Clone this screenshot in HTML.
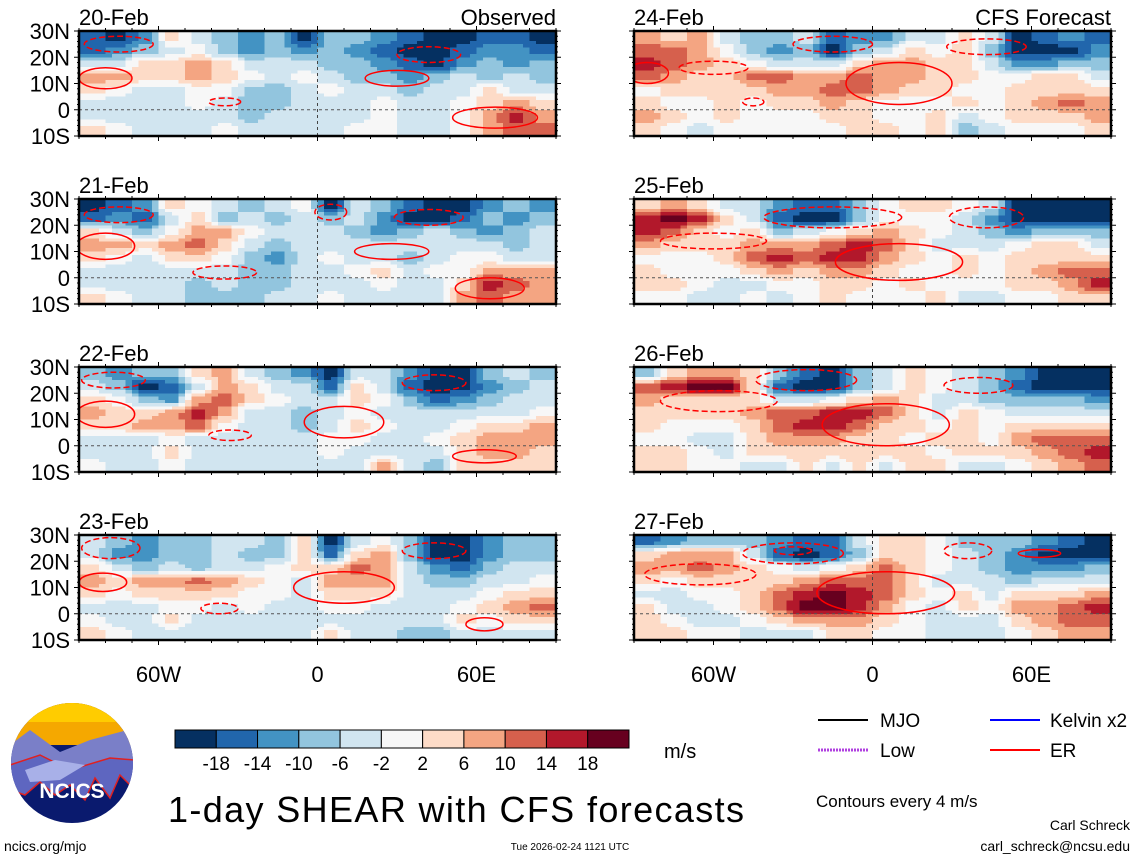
<!DOCTYPE html>
<html><head><meta charset="utf-8"><style>
body{margin:0;background:#fff;width:1135px;height:860px;overflow:hidden;font-family:"Liberation Sans",sans-serif}
svg{position:absolute;left:0;top:0}
</style></head><body>
<svg id="chart" width="1135" height="860" viewBox="0 0 1135 860" xmlns="http://www.w3.org/2000/svg">
<g id="panels"></g>
<g id="legend"></g>
</svg>
<script>
const dates=["20-Feb","21-Feb","22-Feb","23-Feb","24-Feb","25-Feb","26-Feb","27-Feb"];
const lonTickLabels=["60W","0","60E"];
const lonTicks=[-60,0,60];
const latTickLabels=["30N","20N","10N","0","10S"];
const latTicks=[30,20,10,0,-10];
const levels=[-18,-14,-10,-6,-2,2,6,10,14,18];
const levelLabels=["-18","-14","-10","-6","-2","2","6","10","14","18"];
const colors=["#053061","#2166ac","#4393c3","#92c5de","#d1e5f0","#f7f7f7","#fddbc7","#f4a582","#d6604d","#b2182b","#67001f"];
// 18 lon columns (-90..90 step 10) x 8 lat rows (30N..10S step 5)
const field20=[[-16,-20,-12,4,-4,-8,-12,-8,-20,-8,-8,-12,-16,-20,-20,-16,-16,-20],[-16,-12,-8,-4,0,-8,-12,-8,-12,-8,-12,-16,-20,-20,-16,-12,-12,-16],[-4,-4,4,4,8,4,-4,-4,-4,-8,-8,-12,-16,-20,-12,-8,-12,-8],[8,8,4,4,8,4,0,-4,0,-4,-8,-8,-12,-8,-4,-8,-4,-8],[4,0,-4,-4,0,0,-8,-8,-4,0,-4,-4,-8,-4,-4,4,-4,-4],[-4,-4,-4,-4,0,-4,-8,-8,-4,-4,-4,0,-4,-4,0,4,8,4],[-4,-4,-4,-4,-4,-4,-8,-4,-4,-4,-4,0,-4,-4,0,8,16,8],[4,0,-4,-4,-4,0,-4,-4,-4,-4,0,0,-4,-4,0,8,12,12]];
const field21=[[-20,-16,-12,4,0,-4,-8,-4,0,-20,-4,-8,-16,-20,-20,-12,-8,-12],[-16,-12,-16,-4,4,-8,-4,-8,-4,-8,-4,-12,-20,-20,-16,-8,-12,-8],[4,-4,-8,0,8,8,0,-4,-4,-4,-8,-12,-8,-4,-8,-12,-8,-4],[8,8,4,8,12,4,-4,-8,-4,-4,-4,-4,-4,-4,-4,-4,-8,-4],[4,0,-4,4,4,0,-8,-12,-4,0,-4,-4,-8,-4,0,0,-4,-4],[-4,-4,-4,-4,-4,-4,-8,-8,-4,-4,0,4,-4,0,0,8,8,8],[-4,-4,-4,-4,-8,-4,-8,-8,-4,-4,-4,0,-4,-4,4,16,12,8],[4,0,-4,-4,-8,-8,-8,-4,-4,0,-4,-4,-4,-4,8,12,8,8]];
const field22=[[-8,-12,-8,-8,4,8,-4,-8,-12,-20,-4,-4,-12,-20,-20,-8,-4,-8],[-4,-8,-20,-16,-4,8,4,-4,-4,-16,4,-4,-16,-20,-20,-12,-8,-4],[4,0,-8,-12,8,12,4,0,-4,-4,4,0,-8,-16,-12,-8,-4,-4],[8,4,4,8,16,8,-4,-4,-8,-4,0,-4,-4,-4,-4,-4,-4,0],[4,4,8,8,12,0,-4,-4,-8,-4,4,0,-4,-4,0,4,4,8],[-4,-4,-4,0,-4,-4,-4,-4,-4,0,0,-4,-4,0,4,8,8,8],[-4,-4,-4,4,-4,-4,-4,-4,-4,0,-4,-4,-4,-4,4,8,8,4],[0,-4,-4,0,-4,-4,-4,-4,-4,-4,-4,8,-4,-8,4,4,4,4]];
const field23=[[-4,-8,-12,-8,-8,-4,-4,-8,4,-20,-4,0,-8,-20,-20,-12,-8,-8],[-4,-12,-12,-8,-8,-4,-8,-8,4,-16,4,8,-8,-20,-20,-12,-8,-8],[4,-4,-8,-4,-8,-4,-4,0,4,4,12,8,-4,-12,-16,-8,-4,-4],[8,4,8,8,12,8,4,0,-4,8,8,8,-4,-8,-8,-4,-4,0],[4,0,4,4,4,4,0,0,-4,4,4,4,-4,-4,-4,0,4,4],[-4,-4,-4,0,0,-4,0,-4,-4,0,0,-4,-4,-4,0,4,8,12],[0,-4,-4,4,-4,-4,-4,-4,-4,-4,-4,-4,-4,-4,4,0,4,4],[4,0,-4,-4,-4,-4,-4,-4,-4,4,-4,-4,-8,-8,-4,-4,-4,-4]];
const field24=[[8,4,8,-4,-8,-8,-4,-16,-12,-12,-4,-4,4,-4,-20,-16,-12,-16],[12,12,8,0,-8,-12,-8,-20,-8,-4,4,0,4,-8,-20,-20,-20,-12],[16,12,8,4,0,-4,-4,-4,4,8,8,4,4,-4,-12,-12,-8,-8],[12,8,4,4,12,12,8,8,12,8,8,4,4,0,0,4,4,-4],[0,4,4,4,4,8,8,12,12,8,4,4,0,0,4,4,4,4],[4,0,0,4,0,4,4,8,4,0,0,0,4,0,4,8,12,8],[8,4,0,4,0,0,0,4,4,0,0,4,-4,0,4,4,4,8],[4,0,-4,0,0,0,0,0,4,4,0,4,-8,-4,0,0,0,4]];
const field25=[[4,8,4,-4,-4,-12,-16,-16,-8,0,4,4,0,-4,-20,-20,-20,-20],[16,20,16,4,-4,-16,-20,-20,-8,0,0,0,-4,-12,-20,-20,-20,-20],[16,12,4,0,4,-8,-4,0,4,8,4,0,-4,-8,-12,-8,-8,-8],[8,4,4,4,8,8,8,12,16,12,4,-4,-4,-4,0,4,4,-4],[0,0,0,4,12,16,12,16,16,8,4,0,4,0,4,4,4,4],[4,0,0,0,4,8,4,8,8,4,0,0,4,0,4,8,12,12],[4,4,0,-4,-4,0,0,4,4,0,4,0,0,0,4,4,8,16],[0,0,-4,-4,0,-4,0,4,0,0,0,4,-4,-4,0,0,4,4]];
const field26=[[-8,4,8,8,4,-8,-16,-20,-8,-4,4,0,-4,-8,-12,-20,-20,-20],[12,16,20,20,4,-16,-20,-20,-8,-4,4,0,-4,-8,-16,-20,-20,-20],[8,4,4,4,4,-4,-4,0,4,8,4,-4,-4,-8,-8,-8,-8,-12],[4,4,4,4,8,12,12,16,16,12,4,-4,4,0,-4,-4,-4,-4],[4,0,0,0,4,12,16,16,12,4,4,0,4,0,4,4,4,4],[0,0,-4,-4,4,8,8,8,4,4,0,4,4,0,8,12,12,12],[4,4,0,-4,4,4,4,4,4,4,4,0,4,4,4,8,12,16],[4,4,0,0,-4,-4,4,-4,4,-4,4,4,-4,-4,0,4,8,12]];
const field27=[[-16,-12,-8,-8,-8,-12,-16,-16,-4,4,4,0,-8,-8,-8,-12,-16,-20],[4,8,8,8,-4,-16,-20,-16,-8,4,4,0,-4,-8,-12,-20,-20,-20],[8,8,12,8,4,0,-4,0,4,12,4,0,-4,-8,-12,-12,-12,-8],[4,0,4,4,4,4,8,12,12,12,4,-4,-4,-4,-8,-4,-4,-4],[-4,-4,0,0,4,12,16,20,16,12,4,0,4,-4,4,4,4,8],[4,-4,-4,0,4,12,20,20,16,8,0,-4,4,0,8,8,12,16],[4,0,-4,-4,0,4,8,8,8,4,0,-4,-4,-4,4,8,12,12],[4,4,0,0,-4,-4,-4,4,4,0,0,-4,-4,-4,0,4,8,8]];
const fields=[field20,field21,field22,field23,field24,field25,field26,field27];
// ER contours per panel: [lon, lat, lonRadius, latRadius, dashed(1)/solid(0)]
const erContours=[
[[-80,12,10,4,0],[-75,25,13,3,1],[-35,3,6,1.5,1],[42,21,12,3,1],[30,12,12,3,0],[67,-3,16,4,0]],
[[-80,12,11,5,0],[-75,24,13,3,1],[-35,2,12,2.5,1],[5,25,6,3,1],[42,23,13,3,1],[28,10,14,3,0],[65,-4,13,4,0]],
[[-80,12,11,5,0],[-77,25,12,3,1],[-33,4,8,2,1],[10,9,15,6,0],[44,24,12,3,1],[63,-4,12,2.5,0]],
[[-81,12,9,3.5,0],[-78,25,11,4,1],[-37,2,7,2,1],[10,10,19,6,0],[44,24,12,3,1],[63,-4,7,2.5,0]],
[[-85,14,8,4,0],[-60,16,13,2.5,1],[-45,3,4,1.5,1],[-15,25,15,3,1],[10,10,20,8,0],[43,24,15,3,1]],
[[-60,14,20,3,1],[-15,23,26,4,1],[10,6,24,7,0],[43,23,14,4,1]],
[[-58,17,22,4,1],[-25,25,19,4,1],[5,8,24,8,0],[40,23,13,3,1]],
[[-65,15,21,4,1],[-30,23,19,4,1],[-30,24,7,1.5,1],[5,8,26,8,0],[36,24,9,3,1],[63,23,8,1.5,0]]
];
const panelLeft=[79,79,79,79,634,634,634,634];
const panelTop=[31,199,367,535,31,199,367,535];
const PW=477,PH=105;
const NS="http://www.w3.org/2000/svg";
function mk(tag,attrs,parent){const e=document.createElementNS(NS,tag);for(const k in attrs)e.setAttribute(k,attrs[k]);parent.appendChild(e);return e;}
function colorOf(v){let i=0;while(i<levels.length&&v>=levels[i])i++;return colors[i];}
function ss(t){return t*t*(3-2*t);}
function sample(f,lon,lat){
  let cx=(lon+85)/10, ry=(27.5-lat)/5;
  cx=Math.max(0,Math.min(17,cx)); ry=Math.max(0,Math.min(7,ry));
  const c0=Math.min(16,Math.floor(cx)), r0=Math.min(6,Math.floor(ry));
  const tx=ss(cx-c0), ty=ss(ry-r0);
  const a=f[r0][c0]*(1-tx)+f[r0][c0+1]*tx, b=f[r0+1][c0]*(1-tx)+f[r0+1][c0+1]*tx;
  return a*(1-ty)+b*ty;
}
const root=document.getElementById('panels');
const DLON=2.5,DLAT=1.25;
for(let p=0;p<8;p++){
  const L=panelLeft[p],T=panelTop[p];
  const xS=lon=>L+(lon+90)/180*PW;
  const yS=lat=>T+(30-lat)/40*PH;
  const g=mk('g',{},root);
  
  
  const hg=mk('g',{'shape-rendering':'crispEdges'},g);
  
  
  const f=fields[p];
  for(let lat=30;lat>-10;lat-=DLAT){
    let runStart=-90,runCol=null;
    for(let lon=-90;lon<=90;lon+=DLON){
      const col=lon<90?colorOf(sample(f,lon+DLON/2,lat-DLAT/2)):null;
      if(col!==runCol){
        if(runCol!==null){
          const x0=xS(runStart),x1=xS(lon),y0=yS(lat),y1=yS(lat-DLAT);
          const cell=mk('rect',{x:x0,y:y0,width:x1-x0+0.6,height:y1-y0+0.6,fill:runCol},hg);
          
          
        }
        runStart=lon;runCol=col;
      }
    }
  }
  mk('line',{x1:L,x2:L+PW,y1:yS(0),y2:yS(0),stroke:'#555','stroke-width':1,'stroke-dasharray':'3,3'},g);
  mk('line',{x1:xS(0),x2:xS(0),y1:T,y2:T+PH,stroke:'#444','stroke-width':1,'stroke-dasharray':'3,3'},g);
  mk('clipPath',{id:'clip'+p},g);
  mk('rect',{x:L,y:T,width:PW,height:PH},document.getElementById('clip'+p));
  const cg=mk('g',{'clip-path':'url(#clip'+p+')'},g);
  for(const e of erContours[p]){
    const el=mk('ellipse',{cx:xS(e[0]),cy:yS(e[1]),rx:e[2]/180*PW,ry:e[3]/40*PH,fill:'none',stroke:'#f00','stroke-width':1.5},cg);
    if(e[4])el.setAttribute('stroke-dasharray','6,3');
    
    
  }
  const fr=mk('rect',{x:L,y:T,width:PW,height:PH,fill:'none',stroke:'#000','stroke-width':2.5},g);
  
  
  for(let lon=-90;lon<=90;lon+=10){const x=xS(lon);const big=lon%60===0;
    mk('line',{x1:x,x2:x,y1:T+PH,y2:T+PH+(big?5:3),stroke:'#000','stroke-width':1},g);
    mk('line',{x1:x,x2:x,y1:T,y2:T-(big?5:3),stroke:'#000','stroke-width':1},g);}
  for(let lat=-10;lat<=30;lat+=2){const y=yS(lat);const big=lat%10===0;
    mk('line',{x1:L,x2:L-(big?5:2),y1:y,y2:y,stroke:'#000','stroke-width':1},g);
    mk('line',{x1:L+PW,x2:L+PW+(big?5:2),y1:y,y2:y,stroke:'#000','stroke-width':1},g);}
  const t=mk('text',{x:L,y:T-6,'font-size':22},g);t.textContent=dates[p];
  
  
  if(p===0||p===4){const s=mk('text',{x:L+PW,y:T-6,'font-size':22,'text-anchor':'end'},g);s.textContent=p===0?'Observed':'CFS Forecast';
    
    }
  if(p<4){for(let i=0;i<latTicks.length;i++){const lt=mk('text',{x:70,y:yS(latTicks[i])+8,'font-size':22,'text-anchor':'end'},g);lt.textContent=latTickLabels[i];
    
    }}
  if(p===3||p===7){for(let i=0;i<lonTicks.length;i++){const lt=mk('text',{x:xS(lonTicks[i]),y:682,'font-size':22,'text-anchor':'middle'},g);lt.textContent=lonTickLabels[i];
    
    }}
}
const lg=document.getElementById('legend');
const cbX=175,cbW=454,cbY=730,cbH=18,bw=cbW/colors.length;
for(let i=0;i<colors.length;i++){const b=mk('rect',{x:cbX+i*bw,y:cbY,width:bw,height:cbH,fill:colors[i],stroke:'#000','stroke-width':1},lg);
  
  }
for(let i=0;i<levelLabels.length;i++){const t=mk('text',{x:cbX+(i+1)*bw,y:770,'font-size':19,'text-anchor':'middle'},lg);t.textContent=levelLabels[i];
  
  }
</script>
<svg width="1135" height="860" viewBox="0 0 1135 860" style="pointer-events:none">
<g>
<clipPath id="lc"><ellipse cx="72" cy="763" rx="61" ry="60"/></clipPath>
<g clip-path="url(#lc)">
<rect x="10" y="700" width="125" height="130" fill="#0a1a6e"/>
<rect x="10" y="700" width="125" height="45" fill="#f5a800"/>
<rect x="10" y="700" width="125" height="22" fill="#ffcc00"/>
<polygon points="10,745 30,730 60,752 90,740 135,728 135,770 10,780" fill="#7a7fc8"/>
<polygon points="10,765 40,755 70,770 110,758 135,760 135,790 120,775 110,798 95,778 85,800 70,785 55,795 40,782 25,795 10,790" fill="#5e66c0" stroke="#e02020" stroke-width="1.5"/>
<polygon points="25,770 55,760 85,765 60,780 30,782" fill="#a8b0e8"/>
</g>
<text x="72" y="798" font-size="21" font-weight="bold" fill="#fff" text-anchor="middle">NCICS</text>
</g>
<text x="664" y="758" font-size="20">m/s</text>
<text x="168" y="822" font-size="36" textLength="576">1-day SHEAR with CFS forecasts</text>
<line x1="818" y1="720" x2="868" y2="720" stroke="#000" stroke-width="2"/>
<text x="880" y="727" font-size="19">MJO</text>
<line x1="990" y1="720" x2="1040" y2="720" stroke="#00f" stroke-width="2"/>
<text x="1050" y="727" font-size="19">Kelvin x2</text>
<line x1="818" y1="750" x2="868" y2="750" stroke="#b040e0" stroke-width="3" stroke-dasharray="2,1"/>
<text x="880" y="757" font-size="19">Low</text>
<line x1="990" y1="750" x2="1040" y2="750" stroke="#f00" stroke-width="2"/>
<text x="1050" y="757" font-size="19">ER</text>
<text x="816" y="807" font-size="17">Contours every 4 m/s</text>
<text x="1130" y="830" font-size="14" text-anchor="end">Carl Schreck</text>
<text x="1130" y="851" font-size="14" text-anchor="end">carl_schreck@ncsu.edu</text>
<text x="4" y="851" font-size="14">ncics.org/mjo</text>
<text x="570" y="850" font-size="10" text-anchor="middle">Tue 2026-02-24 1121 UTC</text>
</svg>
</body></html>
